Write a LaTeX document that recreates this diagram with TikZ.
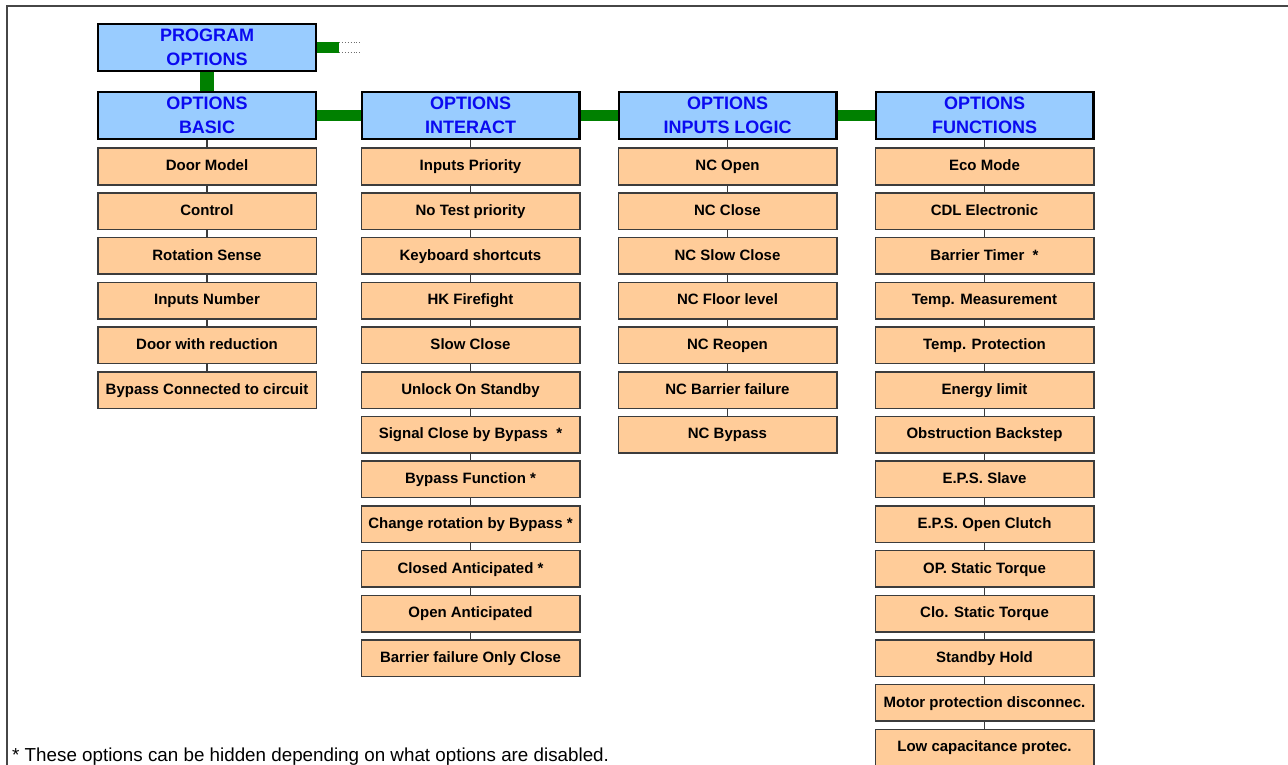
\documentclass[tikz,border=0pt]{standalone}
\usepackage{fontspec}
\setmainfont{Liberation Sans}
\definecolor{hdrfill}{RGB}{153,204,255}
\definecolor{hdrtext}{RGB}{10,10,240}
\definecolor{leaffill}{RGB}{255,204,153}
\definecolor{leafline}{RGB}{60,60,60}
\definecolor{barg}{RGB}{0,128,0}
\definecolor{framegray}{RGB}{70,70,70}
\definecolor{dotgray}{RGB}{110,110,110}
\begin{document}
\begin{tikzpicture}[x=1pt,y=-1pt,
 hdr/.style={draw=black, line width=2.2pt, fill=hdrfill, minimum width=217.8pt, minimum height=46.8pt, inner sep=0pt, align=center, text=hdrtext, font=\fontsize{18}{23.5}\selectfont\bfseries},
 leaf/.style={draw=leafline, line width=1.5pt, fill=leaffill, minimum width=218.5pt, minimum height=36.5pt, inner sep=0pt, text height=11pt, text depth=2.6pt, font=\fontsize{15}{18}\selectfont\bfseries, text=black},
 bar/.style={draw=barg, line width=10.5pt},
 vbar/.style={draw=barg, line width=14pt},
 thinline/.style={draw=leafline, line width=1.1pt},
 dotline/.style={draw=dotgray, line width=0.9pt, dotted}]
\useasboundingbox (0,0) rectangle (1288,765);
\draw[framegray, line width=2pt] (6.5,780) -- (6.5,6.5) -- (1300,6.5);

\node[hdr] (prog) at (207,47.5) {PROGRAM\\OPTIONS};
\node[hdr] (basic) at (207,115.5) {OPTIONS\\BASIC};
\node[hdr] (interact) at (470.5,115.5) {OPTIONS\\INTERACT};
\node[hdr] (logic) at (727.5,115.5) {OPTIONS\\INPUTS LOGIC};
\node[hdr] (func) at (984.5,115.5) {OPTIONS\\FUNCTIONS};

\foreach [count=\i] \t in {Door Model, Control, Rotation Sense, Inputs Number, Door with reduction, Bypass Connected to circuit}
  \node[leaf] (a\i) at (207,166.5+44.7*\i-44.7) {\t};
\foreach [count=\i] \t in {Inputs Priority, No Test priority, Keyboard shortcuts, HK Firefight, Slow Close, Unlock On Standby, {Signal Close by Bypass\ \ *}, Bypass Function *, Change rotation by Bypass *, Closed Anticipated *, Open Anticipated, Barrier failure Only Close}
  \node[leaf] (b\i) at (470.5,166.5+44.7*\i-44.7) {\t};
\foreach [count=\i] \t in {NC Open, NC Close, NC Slow Close, NC Floor level, NC Reopen, NC Barrier failure, NC Bypass}
  \node[leaf] (c\i) at (727.5,166.5+44.7*\i-44.7) {\t};
\foreach [count=\i] \t in {Eco Mode, CDL Electronic, {Barrier Timer\ \ *}, Temp. Measurement, Temp. Protection, Energy limit, Obstruction Backstep, E.P.S. Slave, E.P.S. Open Clutch, OP. Static Torque, Clo. Static Torque, Standby Hold, Motor protection disconnec., Low capacitance protec.}
  \node[leaf] (d\i) at (984.5,166.5+44.7*\i-44.7) {\t};

% thin connectors
\draw[thinline] (basic.south) -- (a1.north);
\draw[thinline] (interact.south) -- (b1.north);
\draw[thinline] (logic.south) -- (c1.north);
\draw[thinline] (func.south) -- (d1.north);
\foreach \i [evaluate=\i as \j using int(\i+1)] in {1,...,5} \draw[thinline] (a\i.south) -- (a\j.north);
\foreach \i [evaluate=\i as \j using int(\i+1)] in {1,...,11} \draw[thinline] (b\i.south) -- (b\j.north);
\foreach \i [evaluate=\i as \j using int(\i+1)] in {1,...,6} \draw[thinline] (c\i.south) -- (c\j.north);
\foreach \i [evaluate=\i as \j using int(\i+1)] in {1,...,13} \draw[thinline] (d\i.south) -- (d\j.north);

% green bars
\draw[vbar] (prog.south) -- (basic.north);
\draw[bar] (basic.east) -- (interact.west);
\draw[bar] (interact.east) -- (logic.west);
\draw[bar] (logic.east) -- (func.west);
\draw[bar] (prog.east) -- ++(22,0) coordinate (pe);
\coordinate (pt) at ([yshift=5pt]pe);
\coordinate (pb) at ([yshift=-5pt]pe);
\draw[dotline] (pt) -- ++(23,0) coordinate (pt2);
\draw[dotline] (pb) -- ++(23,0) coordinate (pb2);

\node[anchor=base west, inner sep=0pt, font=\fontsize{18.8}{20}\selectfont] (note) at (12,761.5) {* These options can be hidden depending on what options are disabled.};
\end{tikzpicture}
\end{document}
